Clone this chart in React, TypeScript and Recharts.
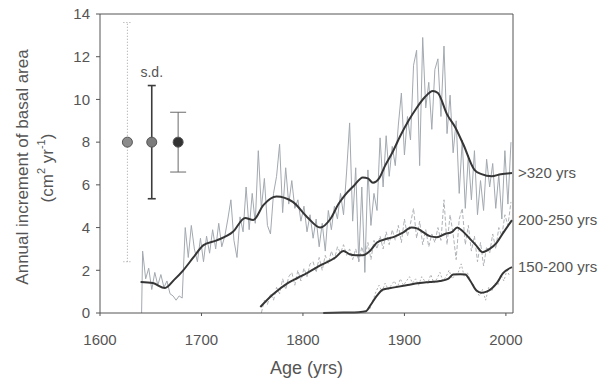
import React from "react";
import {
  ComposedChart,
  Line,
  Scatter,
  ErrorBar,
  XAxis,
  YAxis,
  ReferenceLine,
  ReferenceDot,
  Label,
} from "recharts";

// Annual increments (cm2/yr), one value every 3 years from the start year
const raw320Start = 1642;
const raw320 = [
  2.9, 1.6, 2.1, 1.1, 1.9, 1.3, 1.8, 1.2, 1.5, 0.9, 0.8, 0.6, 0.8, 0.7, // 1642-1681
  4.0, 2.6, 4.1, 3.0, 2.4, 3.5, 2.4, 3.6, 2.8, 3.9, 3.0, 4.2, 3.1, 3.6, 4.4, 5.3, // 1684-1729
  3.4, 2.6, 4.5, 3.8, 5.9, 3.9, 5.6, 4.2, 7.6, 4.9, 6.3, 4.1, 3.7, 5.6, 6.4, 7.9, 4.7, // 1732-1780
  6.8, 5.1, 6.2, 4.9, 5.3, 4.3, 5.0, 3.8, 4.6, 3.5, 4.4, 3.1, 4.2, 2.9, 4.8, 3.9, // 1783-1828
  5.0, 4.4, 5.6, 4.6, 6.6, 8.9, 4.3, 6.8, 2.4, 5.9, 1.9, 6.7, 4.1, 5.6, 4.8, 8.2, // 1831-1876
  5.9, 8.3, 6.4, 7.8, 6.9, 8.8, 10.3, 7.4, 9.2, 8.1, 11.6, 12.3, 6.9, 12.9, 9.6, 10.8, // 1879-1924
  8.6, 11.4, 11.9, 9.2, 12.5, 8.4, 10.2, 7.5, 9.0, 5.6, 8.1, 4.9, 7.4, 5.3, 7.6, 4.6, // 1927-1972
  6.2, 4.8, 7.2, 5.9, 7.0, 4.9, 6.5, 4.4, 7.6, 5.1, 8.0, // 1975-2005
];

const raw200Start = 1759;
const raw200 = [
  0.0, 0.6, 0.4, 0.9, 0.6, 1.2, 0.9, 1.6, 1.1, 1.7, 1.9, 1.3, 2.0, 1.5, 2.1, 1.7, // 1759-1804
  2.3, 2.4, 1.9, 2.6, 2.0, 2.7, 2.3, 2.9, 2.5, 3.1, 2.8, 3.2, 2.7, 3.0, 2.5, 3.0, // 1807-1852
  2.4, 3.1, 2.6, 3.3, 2.5, 3.4, 3.0, 3.6, 3.0, 3.8, 3.2, 3.9, 3.4, 4.1, 3.3, 4.4, // 1855-1900
  3.6, 4.2, 4.9, 3.5, 4.3, 3.2, 3.9, 3.1, 3.7, 3.3, 4.0, 3.4, 5.3, 3.2, 4.6, 3.7, // 1903-1948
  2.5, 4.4, 4.9, 3.2, 4.1, 2.9, 3.6, 2.4, 3.3, 2.2, 3.1, 2.8, 3.7, 3.0, 4.0, 3.6, // 1951-1996
  4.6, 4.1, 5.2, // 1999-2005
];

const raw150Start = 1866;
const raw150 = [
  0.2, 0.6, 1.0, 1.3, 1.0, 1.4, 1.1, 1.3, 1.5, 1.2, 1.6, 1.3, 1.5, 1.7, 1.4, 1.6, // 1866-1911
  1.3, 1.7, 1.5, 1.4, 1.8, 1.4, 1.6, 1.9, 1.5, 1.7, 2.0, 1.6, 1.8, 1.9, 2.3, 1.7, // 1914-1959
  1.9, 1.5, 1.3, 1.0, 0.8, 1.1, 0.6, 1.2, 1.0, 1.4, 1.3, 1.8, 1.5, 2.0, 1.7, // 1962-2004
];

// Smoothed curves
const smooth320Years = [
  1640, 1652, 1664, 1673, 1682, 1692, 1702, 1715, 1731, 1743, 1751, 1761, 1774, 1790,
  1804, 1817, 1827, 1835, 1841, 1850, 1859, 1864, 1869, 1875, 1881, 1888, 1896, 1904,
  1912, 1920, 1928, 1933, 1942, 1950, 1958, 1969, 1976, 1986, 1995, 2006,
];
const smooth320 = [
  1.45, 1.4, 1.17, 1.55, 2.0, 2.6, 3.18, 3.4, 3.8, 4.45, 4.35, 5.05, 5.45, 5.2,
  4.5, 4.0, 4.4, 5.1, 5.5, 5.95, 6.35, 6.3, 6.1, 6.3, 6.9, 7.5, 8.3, 9.0,
  9.6, 10.1, 10.4, 10.3, 9.3, 8.7, 7.9, 6.7, 6.5, 6.4, 6.5, 6.55,
];

const smooth200Years = [
  1758, 1770, 1785, 1795, 1804, 1818, 1832, 1840, 1846, 1852, 1859, 1866, 1873, 1881,
  1889, 1898, 1907, 1913, 1918, 1925, 1932, 1940, 1947, 1952, 1957, 1963, 1970, 1977,
  1984, 1991, 1998, 2006,
];
const smooth200 = [
  0.28, 0.85, 1.4, 1.65, 1.87, 2.25, 2.6, 2.9, 2.75, 2.7, 2.7, 2.9, 3.3, 3.45,
  3.55, 3.75, 4.0, 3.95, 3.8, 3.6, 3.55, 3.7, 3.8, 4.0, 3.85, 3.55, 3.2, 2.85,
  3.0, 3.3, 3.8, 4.35,
];

const smooth150Years = [
  1820, 1840, 1855, 1862, 1867, 1872, 1879, 1890, 1902, 1915, 1925, 1935, 1943, 1948,
  1955, 1960, 1965, 1971, 1976, 1981, 1986, 1991, 1997, 2006,
];
const smooth150 = [
  0.0, 0.02, 0.04, 0.08, 0.4, 0.75, 1.1, 1.2, 1.3, 1.4, 1.45, 1.5, 1.6, 1.8,
  1.82, 1.8, 1.5, 1.05, 0.95, 1.0, 1.15, 1.4, 1.85, 2.15,
];

// Mean and standard deviation of the three age classes
const sdYears = [1627, 1651, 1677];
const sdMeans = [8, 8, 8];
const sdErrors = [5.6, 2.65, 1.4];

const classLabels = [">320 yrs", "200-250 yrs", "150-200 yrs"];
const xTicks = [1600, 1700, 1800, 1900, 2000];
const yTicks = [0, 2, 4, 6, 8, 10, 12, 14];

const stepped = (start: number, values: number[]) =>
  values.map((value, i) => ({ year: start + i * 3, value }));
const paired = (years: number[], values: number[]) =>
  years.map((year, i) => ({ year, value: values[i] }));

const raw320Data = [{ year: 1641, value: 0 }, ...stepped(raw320Start, raw320)];
const raw200Data = stepped(raw200Start, raw200);
const raw150Data = stepped(raw150Start, raw150);
const smooth320Data = paired(smooth320Years, smooth320);
const smooth200Data = paired(smooth200Years, smooth200);
const smooth150Data = paired(smooth150Years, smooth150);
const sdData = sdYears.map((year, i) => ({ year, value: sdMeans[i], err: sdErrors[i] }));

const FONT = "'Liberation Sans', Arial, sans-serif";
const TEXT = "#555555";

const sdStyles = [
  { fill: "#8c8c8c", bar: "#a0a0a0", width: 1, dash: "1 2", cap: 4 },
  { fill: "#7c7c7c", bar: "#3c3c3c", width: 1.6, dash: undefined, cap: 4 },
  { fill: "#333333", bar: "#6a6a6a", width: 1, dash: undefined, cap: 8 },
];

const smoothEnds = [smooth320Data, smooth200Data, smooth150Data].map((d) => d[d.length - 1]);

export default function App() {
  return (
    <div style={{ position: "absolute", left: 0, top: 0, background: "#fff" }}>
      <ComposedChart
        width={602}
        height={383}
        margin={{ top: 14, right: 89, bottom: 8, left: 0 }}
        style={{ fontFamily: FONT }}
      >
        <XAxis
          dataKey="year"
          type="number"
          domain={[1600, 2007]}
          ticks={xTicks}
          allowDataOverflow
          height={62}
          tickSize={3}
          tickMargin={18}
          stroke="#555"
          tick={{ fill: TEXT, fontSize: 15 }}
        >
          <Label
            value="Age (yrs)"
            position="insideBottom"
            offset={1}
            style={{ fill: TEXT, fontSize: 18, fontFamily: FONT }}
          />
        </XAxis>
        <YAxis
          dataKey="value"
          type="number"
          domain={[0, 14]}
          ticks={yTicks}
          width={100}
          tickSize={4}
          tickMargin={6}
          stroke="#555"
          tick={{ fill: TEXT, fontSize: 15 }}
        >
          <Label
            content={() => (
              <g fill={TEXT} fontFamily={FONT} fontSize={17} textAnchor="middle">
                <text x={22} y={167} dominantBaseline="central" transform="rotate(-90 22 167)">
                  Annual increment of basal area
                </text>
                <text x={47} y={168} dominantBaseline="central" transform="rotate(-90 47 168)">
                  (cm<tspan fontSize={11} dy={-6}>2</tspan>
                  <tspan dy={6}> yr</tspan>
                  <tspan fontSize={11} dy={-6}>-1</tspan>
                  <tspan dy={6}>)</tspan>
                </text>
              </g>
            )}
          />
        </YAxis>

        <ReferenceLine y={14} stroke="#555" />
        <ReferenceLine x={2007} stroke="#555" />

        <Line
          data={raw320Data}
          dataKey="value"
          type="linear"
          stroke="#a2a9b0"
          strokeWidth={1}
          dot={false}
          isAnimationActive={false}
        />
        <Line
          data={raw200Data}
          dataKey="value"
          type="linear"
          stroke="#b0b4b8"
          strokeWidth={1}
          strokeDasharray="4 2"
          dot={false}
          isAnimationActive={false}
        />
        <Line
          data={raw150Data}
          dataKey="value"
          type="linear"
          stroke="#b0b0b0"
          strokeWidth={1}
          strokeDasharray="2 2"
          dot={false}
          isAnimationActive={false}
        />
        {[smooth320Data, smooth200Data, smooth150Data].map((d, i) => (
          <Line
            key={`smooth-${i}`}
            data={d}
            dataKey="value"
            type="monotone"
            stroke="#353535"
            strokeWidth={2}
            dot={false}
            isAnimationActive={false}
          />
        ))}

        {sdData.map((d, i) => (
          <Scatter
            key={`sd-${i}`}
            data={[d]}
            dataKey="value"
            isAnimationActive={false}
            shape={(p: any) => (
              <circle cx={p.cx} cy={p.cy} r={5} fill={sdStyles[i].fill} stroke="#555" strokeWidth={1} />
            )}
          >
            <ErrorBar
              dataKey="err"
              direction="y"
              width={sdStyles[i].cap}
              stroke={sdStyles[i].bar}
              strokeWidth={sdStyles[i].width}
              strokeDasharray={sdStyles[i].dash}
              isAnimationActive={false}
            />
          </Scatter>
        ))}

        <ReferenceDot
          x={1651}
          y={11.3}
          r={0}
          stroke="none"
          label={{ value: "s.d.", position: "center", fill: TEXT, fontSize: 14 }}
        />
        {smoothEnds.map((end, i) => (
          <ReferenceDot
            key={`end-${i}`}
            x={end.year}
            y={end.value}
            r={0}
            stroke="none"
            label={{ value: classLabels[i], position: "right", offset: 6, fill: TEXT, fontSize: 15 }}
          />
        ))}
      </ComposedChart>
    </div>
  );
}
